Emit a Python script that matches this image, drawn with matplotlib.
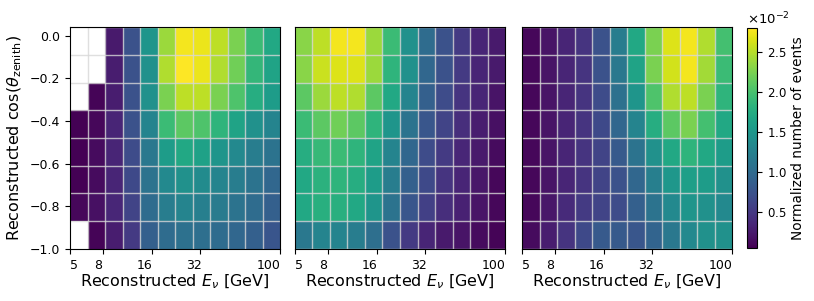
import numpy as np
import matplotlib
matplotlib.use("Agg")
import matplotlib.pyplot as plt
from matplotlib.ticker import FixedLocator, ScalarFormatter, NullFormatter
from matplotlib.transforms import ScaledTranslation

# binning
e_edges = np.logspace(np.log10(5), np.log10(100), 13)
cz_edges = np.linspace(-1.0, 0.04, 9)

nan = np.nan
# normalized events, units of 1e-2, rows from cos=-1 (bottom) to cos=0.04 (top)
panel1 = [
    [nan, 0.08, 0.27, 0.52, 0.88, 1.01, 1.07, 1.04, 1.01, 0.96, 0.88, 0.77],
    [0.10, 0.16, 0.35, 0.60, 1.01, 1.21, 1.29, 1.23, 1.18, 1.10, 1.01, 0.88],
    [0.05, 0.13, 0.33, 0.66, 1.10, 1.34, 1.43, 1.37, 1.29, 1.21, 1.10, 0.96],
    [0.05, 0.13, 0.33, 0.68, 1.15, 1.56, 1.70, 1.62, 1.48, 1.34, 1.21, 1.10],
    [0.05, 0.10, 0.33, 0.74, 1.29, 1.92, 2.11, 2.03, 1.84, 1.65, 1.43, 1.29],
    [nan, 0.08, 0.27, 0.74, 1.43, 2.25, 2.53, 2.53, 2.25, 2.03, 1.76, 1.56],
    [nan, nan, 0.27, 0.74, 1.43, 2.47, 2.80, 2.72, 2.47, 2.20, 1.87, 1.65],
    [nan, nan, 0.24, 0.74, 1.48, 2.39, 2.75, 2.72, 2.53, 2.25, 1.92, 1.70],
]
panel2 = [
    [1.15, 1.29, 1.29, 1.21, 1.04, 0.74, 0.52, 0.33, 0.24, 0.19, 0.13, 0.08],
    [1.70, 1.78, 1.78, 1.70, 1.48, 1.10, 0.79, 0.57, 0.41, 0.30, 0.19, 0.10],
    [1.70, 1.81, 1.84, 1.76, 1.56, 1.21, 0.88, 0.66, 0.46, 0.33, 0.22, 0.10],
    [1.76, 1.89, 1.92, 1.84, 1.65, 1.29, 0.96, 0.68, 0.52, 0.35, 0.24, 0.13],
    [1.92, 2.11, 2.20, 2.11, 1.84, 1.48, 1.10, 0.79, 0.60, 0.41, 0.27, 0.16],
    [2.11, 2.39, 2.53, 2.47, 2.11, 1.70, 1.29, 0.88, 0.68, 0.46, 0.33, 0.19],
    [2.31, 2.58, 2.66, 2.66, 2.39, 1.84, 1.43, 0.96, 0.74, 0.52, 0.33, 0.24],
    [2.31, 2.53, 2.75, 2.75, 2.39, 1.92, 1.43, 1.01, 0.74, 0.52, 0.33, 0.24],
]
panel3 = [
    [0.13, 0.27, 0.46, 0.66, 0.82, 0.82, 0.79, 0.93, 1.15, 1.34, 1.43, 1.43],
    [0.10, 0.22, 0.38, 0.52, 0.60, 0.68, 0.88, 1.10, 1.34, 1.48, 1.43, 1.34],
    [0.10, 0.19, 0.33, 0.46, 0.60, 0.74, 0.96, 1.23, 1.51, 1.59, 1.56, 1.43],
    [0.10, 0.19, 0.33, 0.46, 0.60, 0.82, 1.10, 1.43, 1.70, 1.84, 1.70, 1.56],
    [0.10, 0.19, 0.33, 0.46, 0.66, 0.96, 1.29, 1.76, 2.11, 2.25, 1.98, 1.70],
    [0.10, 0.19, 0.33, 0.46, 0.68, 1.07, 1.48, 2.03, 2.47, 2.53, 2.25, 1.84],
    [0.10, 0.19, 0.33, 0.46, 0.74, 1.15, 1.65, 2.25, 2.61, 2.75, 2.42, 1.92],
    [0.10, 0.19, 0.33, 0.46, 0.74, 1.21, 1.70, 2.25, 2.66, 2.75, 2.47, 1.98],
]
panels = [panel1, panel2, panel3]

xticks = [5, 8, 16, 32, 100]
yticks = [0.0, -0.2, -0.4, -0.6, -0.8, -1.0]
cbar_ticks = [0.005, 0.010, 0.015, 0.020, 0.025]
vmin, vmax = 0.0005, 0.028

# label nudges in pixels, to mimic the original placement
xlabel_shift = [4, -5, -7, -6, -11]

fig = plt.figure(figsize=(8.14, 3.01), dpi=100)
lefts = [0.086, 0.3624, 0.6413]
width, bottom, height = 0.258, 0.173, 0.737

for i, data in enumerate(panels):
    ax = fig.add_axes([lefts[i], bottom, width, height])
    z = np.array(data) * 1e-2
    mesh = ax.pcolormesh(e_edges, cz_edges, np.ma.masked_invalid(z),
                         cmap='viridis', vmin=vmin, vmax=vmax)
    ax.set_xscale('log')
    ax.set_xlim(5, 100)
    ax.set_ylim(-1.0, 0.04)

    ax.xaxis.set_major_locator(FixedLocator(xticks))
    ax.xaxis.set_major_formatter(ScalarFormatter())
    ax.xaxis.set_minor_locator(FixedLocator(e_edges))
    ax.xaxis.set_minor_formatter(NullFormatter())
    ax.yaxis.set_minor_locator(FixedLocator(cz_edges))
    ax.tick_params(which='minor', length=0)
    ax.tick_params(which='major', labelsize=9)
    ax.grid(which='minor', color='#d8d8d8', linewidth=1.0, alpha=0.8)

    for lbl, dx in zip(ax.get_xticklabels(), xlabel_shift):
        lbl.set_transform(lbl.get_transform() + ScaledTranslation(dx / 100, 0, fig.dpi_scale_trans))

    if i == 0:
        ax.set_yticks(yticks)
        ax.set_ylabel(r'Reconstructed cos($\theta_{\mathrm{zenith}}$)', fontsize=11.5)
    else:
        ax.set_yticks([])
    ax.set_xlabel(r'Reconstructed $E_{\nu}$ [GeV]', fontsize=11.5, labelpad=1)

cax = fig.add_axes([0.9177, 0.176, 0.0125, 0.731])
cbar = fig.colorbar(mesh, cax=cax)
fmt = ScalarFormatter(useMathText=True)
fmt.set_powerlimits((0, 0))
cbar.ax.yaxis.set_major_formatter(fmt)
cbar.set_ticks(cbar_ticks)
cbar.ax.tick_params(labelsize=8.5)
off = cbar.ax.yaxis.get_offset_text()
off.set_fontsize(9.5)
off.set_x(0.0)
off.set_horizontalalignment('left')
cbar.set_label('Normalized number of events', fontsize=9.8, labelpad=3)
cbar.outline.set_linewidth(0.8)

fig.savefig('out.png', dpi=100)
